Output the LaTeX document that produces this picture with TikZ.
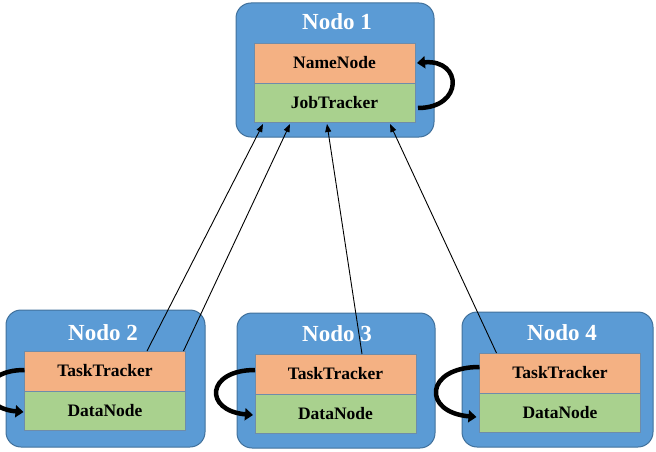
\documentclass[tikz,border=0pt]{standalone}
\usepackage{fontspec}
\setmainfont{Liberation Serif}
\usepackage{tikz}
\usetikzlibrary{positioning,arrows.meta}
\definecolor{hostblue}{RGB}{91, 155, 213}
\definecolor{hostedge}{RGB}{65, 113, 156}
\definecolor{upperfill}{RGB}{244, 177, 131}
\definecolor{lowerfill}{RGB}{169, 209, 142}
\definecolor{slotedge}{RGB}{110, 140, 170}

\begin{document}
\begin{tikzpicture}[
  x=1pt, y=-1pt,
  hostbox/.style={draw=hostedge, line width=1pt, fill=hostblue, rounded corners=15pt},
  hostname/.style={anchor=base, text=white, font=\bfseries\fontsize{23}{26}\selectfont},
  slot/.style={draw=slotedge, line width=0.8pt, minimum width=161pt, outer sep=0pt,
    font=\bfseries\fontsize{17.5}{20}\selectfont},
  upper/.style={slot, fill=upperfill, minimum height=40pt},
  lower/.style={slot, fill=lowerfill, minimum height=39pt},
  link/.style={line width=0.9pt, -{Triangle[length=8pt,width=6pt]}},
  selfloop/.style={line width=4.5pt, -{Triangle[length=8pt,width=12pt]}}
]
\useasboundingbox (0,0) rectangle (656,452);

% hosts
\node[hostbox, minimum width=198pt, minimum height=134pt] (n1) at (335,70) {};
\node[hostbox, minimum width=199pt, minimum height=137pt] (n2) at (105.5,378.5) {};
\node[hostbox, minimum width=198pt, minimum height=135pt] (n3) at (336,380.5) {};
\node[hostbox, minimum width=191pt, minimum height=135pt] (n4) at (557.5,379.5) {};

\node[hostname] (h1) at (337,30) {Nodo 1};
\node[hostname] (h2) at (103,340) {Nodo 2};
\node[hostname] (h3) at (337,341) {Nodo 3};
\node[hostname] (h4) at (562,340) {Nodo 4};

% daemons
\node[upper] (nn) at (334.5,63) {NameNode};
\node[lower, below=0pt of nn] (jt) {JobTracker};
\node[upper] (tt2) at (105,371) {TaskTracker};
\node[lower, below=0pt of tt2] (dn2) {DataNode};
\node[upper] (tt3) at (335.5,374) {TaskTracker};
\node[lower, below=0pt of tt3] (dn3) {DataNode};
\node[upper] (tt4) at (560,373) {TaskTracker};
\node[lower, below=0pt of tt4] (dn4) {DataNode};

% heartbeats to the master
\draw[link] ([xshift=42pt]tt2.north) -- ([xshift=9pt,yshift=-2pt]jt.south west);
\draw[link] ([xshift=-2pt]tt2.north east) -- ([xshift=36pt,yshift=-2pt]jt.south west);
\draw[link] ([xshift=26.5pt]tt3.north) -- ([xshift=73pt,yshift=-2pt]jt.south west);
\draw[link] ([xshift=17pt]tt4.north west) -- ([xshift=136pt,yshift=-2pt]jt.south west);

\draw[selfloop] ([xshift=3pt,yshift=-5.5pt]jt.east) to[out=0,in=5,looseness=2.6] ([xshift=2pt]nn.east);
\draw[selfloop] ([yshift=1pt]tt2.west) to[out=180,in=175,looseness=2.8] ([xshift=-1pt,yshift=-1.5pt]dn2.west);
\draw[selfloop] ([yshift=4pt]tt3.west) to[out=180,in=175,looseness=2.8] ([xshift=-2pt,yshift=-1.5pt]dn3.west);
\draw[selfloop] ([yshift=6pt]tt4.west) to[out=180,in=175,looseness=2.8] ([xshift=-3pt,yshift=-4.5pt]dn4.west);
\end{tikzpicture}
\end{document}
